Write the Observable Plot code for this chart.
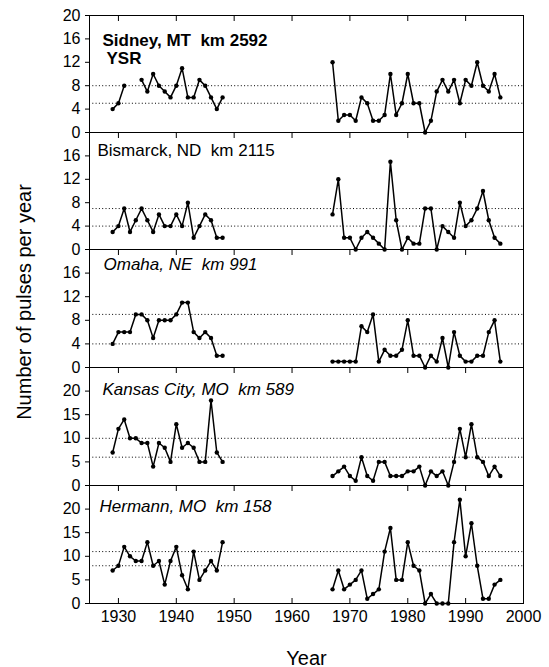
<!DOCTYPE html>
<html><head><meta charset="utf-8">
<script src="https://cdn.jsdelivr.net/npm/d3@7"></script>
<script src="https://cdn.jsdelivr.net/npm/@observablehq/plot@0.6"></script>
<style>
body{margin:0;background:#fff;}
#chart{position:relative;width:549px;height:667px;font-family:Arial,"Liberation Sans",sans-serif;color:#000;}
.panel{position:absolute;left:0;}
.panel svg{overflow:visible;}
#ylab{position:absolute;left:24px;top:302px;transform:translate(-50%,-50%) rotate(-90deg);font-size:20px;white-space:nowrap;}
</style></head><body>
<div id="chart"><div id="ylab">Number of pulses per year</div></div>
<script>
const earlyYears = [1929,1930,1931,1932,1933,1934,1935,1936,1937,1938,1939,1940,1941,1942,1943,1944,1945,1946,1947,1948];
const lateYears = [1967,1968,1969,1970,1971,1972,1973,1974,1975,1976,1977,1978,1979,1980,1981,1982,1983,1984,1985,1986,1987,1988,1989,1990,1991,1992,1993,1994,1995,1996];
const xTicks = [1930,1940,1950,1960,1970,1980,1990,2000];

const stationNames = ["Sidney, MT  km 2592","Bismarck, ND  km 2115","Omaha, NE  km 991","Kansas City, MO  km 589","Hermann, MO  km 158"];

const sidneyEarly = [4,5,8,null,null,9,7,10,8,7,6,8,11,6,6,9,8,6,4,6];
const sidneyLate = [12,2,3,3,2,6,5,2,2,3,10,3,5,10,5,5,0,2,7,9,7,9,5,9,8,12,8,7,10,6];
const bismarckEarly = [3,4,7,3,5,7,5,3,6,4,4,6,4,8,2,4,6,5,2,2];
const bismarckLate = [6,12,2,2,0,2,3,2,1,0,15,5,0,2,1,1,7,7,0,4,3,2,8,4,5,7,10,5,2,1];
const omahaEarly = [4,6,6,6,9,9,8,5,8,8,8,9,11,11,6,5,6,5,2,2];
const omahaLate = [1,1,1,1,1,7,6,9,1,3,2,2,3,8,2,2,0,2,1,5,0,6,2,1,1,2,2,6,8,1];
const kcEarly = [7,12,14,10,10,9,9,4,9,8,5,13,8,9,8,5,5,18,7,5];
const kcLate = [2,3,4,2,1,6,2,1,5,5,2,2,2,3,3,4,0,3,2,3,0,5,12,6,13,6,5,2,4,2];
const hermannEarly = [7,8,12,10,9,9,13,8,9,4,9,12,6,3,11,5,7,9,7,13];
const hermannLate = [3,7,3,4,5,7,1,2,3,11,16,5,5,13,8,7,0,2,0,0,0,13,22,10,17,8,1,1,4,5];

const yMax = [20,20,20,25,25];
const yTickSets = [[0,4,8,12,16,20],[0,4,8,12,16],[0,4,8,12,16],[0,5,10,15,20],[0,5,10,15,20]];
const bandLines = [[8,5],[7,4],[9,4],[10,6],[11,8]];

const earlySeries = [sidneyEarly,bismarckEarly,omahaEarly,kcEarly,hermannEarly];
const lateSeries = [sidneyLate,bismarckLate,omahaLate,kcLate,hermannLate];

const panelTops = [15,132,249,367,485];
const panelHeights = [117,117,118,118,118];
const labelStyle = [
  {dx:13, dy:30, fontWeight:"bold", fontStyle:"normal"},
  {dx:8, dy:23, fontWeight:"normal", fontStyle:"normal"},
  {dx:14, dy:20, fontWeight:"normal", fontStyle:"italic"},
  {dx:13, dy:27, fontWeight:"normal", fontStyle:"italic"},
  {dx:10, dy:26, fontWeight:"normal", fontStyle:"italic"}
];

const chart = document.getElementById("chart");
const FONT = "Arial, 'Liberation Sans', sans-serif";

for (let i = 0; i < 5; i++) {
  const isLast = i === 4;
  const data = [
    ...earlySeries[i].map((v,k) => ({year: earlyYears[k], value: v, seg: "early"})),
    ...lateSeries[i].map((v,k) => ({year: lateYears[k], value: v, seg: "late"}))
  ];
  const ls = labelStyle[i];
  const marks = [
    Plot.ruleY(bandLines[i], {stroke:"black", strokeWidth:1, strokeDasharray:"1,2.3"}),
    Plot.frame({stroke:"black", strokeWidth:1}),
    Plot.axisY({ticks: yTickSets[i], tickSize:4, tickPadding:5, fontSize:16, label:null, tickFormat: d => String(d)}),
    Plot.axisX({anchor:"top", ticks: xTicks, tickSize:-5, tickFormat: () => "", label:null}),
    Plot.line(data, {x:"year", y:"value", z:"seg", stroke:"black", strokeWidth:1.5}),
    Plot.dot(data, {x:"year", y:"value", r:2.2, fill:"black", stroke:"none"}),
    Plot.text([stationNames[i]], {text: d => d, frameAnchor:"top-left", dx: ls.dx, dy: ls.dy, textAnchor:"start", lineAnchor:"bottom", fontSize:17, fontWeight: ls.fontWeight, fontStyle: ls.fontStyle, fill:"black"})
  ];
  if (i === 0) {
    marks.push(Plot.text(["YSR"], {text: d => d, frameAnchor:"top-left", dx:17, dy:48, textAnchor:"start", lineAnchor:"bottom", fontSize:17, fontWeight:"bold", fill:"black"}));
  }
  if (isLast) {
    marks.push(Plot.axisX({anchor:"bottom", ticks: xTicks, tickSize:-5, tickFormat: () => "", label:null}));
    marks.push(Plot.axisX({anchor:"bottom", ticks: xTicks, tickSize:0, tickPadding:7, fontSize:16, tickFormat: d => String(d), label:null}));
    marks.push(Plot.text(["Year"], {text: d => d, frameAnchor:"bottom", dy:61, lineAnchor:"bottom", fontSize:20, fill:"black"}));
  }
  const mb = isLast ? 64 : 0;
  const p = Plot.plot({
    width: 549,
    height: panelHeights[i] + mb,
    marginLeft: 89, marginRight: 26, marginTop: 0, marginBottom: mb,
    style: {background:"transparent", overflow:"visible", fontFamily: FONT, fontSize:"16px", color:"black"},
    x: {domain:[1925,2000]},
    y: {domain:[0, yMax[i]]},
    marks
  });
  const div = document.createElement("div");
  div.className = "panel";
  div.style.top = panelTops[i] + "px";
  div.appendChild(p);
  chart.appendChild(div);
}
</script>
</body></html>
